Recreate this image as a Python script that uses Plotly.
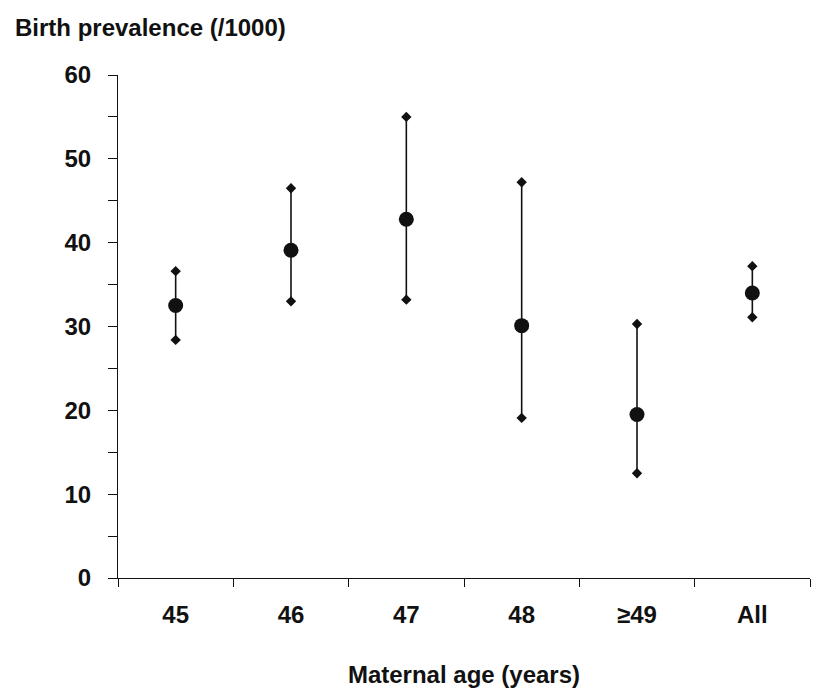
import plotly.graph_objects as go

categories = ["45", "46", "47", "48", "\u226549", "All"]
prevalence = [32.5, 39.1, 42.8, 30.1, 19.5, 34.0]
lower_ci = [28.4, 33.0, 33.2, 19.1, 12.5, 31.1]
upper_ci = [36.6, 46.5, 55.0, 47.2, 30.3, 37.2]

FONT = "Liberation Sans, Arial, sans-serif"
INK = "#111111"

err_plus = [u - p for u, p in zip(upper_ci, prevalence)]
err_minus = [p - l for p, l in zip(prevalence, lower_ci)]

fig = go.Figure()
fig.add_trace(go.Scatter(
    x=categories, y=prevalence, mode="markers",
    marker=dict(symbol="circle", size=15, color=INK),
    error_y=dict(type="data", array=err_plus, arrayminus=err_minus,
                 symmetric=False, width=0, thickness=1.6, color=INK),
    showlegend=False,
))
fig.add_trace(go.Scatter(
    x=categories, y=upper_ci, mode="markers",
    marker=dict(symbol="diamond", size=8, color=INK),
    showlegend=False,
))
fig.add_trace(go.Scatter(
    x=categories, y=lower_ci, mode="markers",
    marker=dict(symbol="diamond", size=8, color=INK),
    showlegend=False,
))

fig.update_layout(
    width=817, height=698,
    margin=dict(l=118, r=7, t=75, b=120),
    paper_bgcolor="white", plot_bgcolor="white",
    font=dict(family=FONT, size=24, color=INK),
    xaxis=dict(
        type="category", range=[-0.5, 5.5],
        showline=True, linecolor=INK, linewidth=1.2,
        ticks="outside", tickson="boundaries", ticklen=8, tickcolor=INK,
        showgrid=False, zeroline=False,
        tickfont=dict(family=FONT, size=24, color=INK, weight="bold"),
        ticklabelstandoff=15,
        title=dict(text="Maternal age (years)", standoff=39,
                   font=dict(family=FONT, size=24, color=INK, weight="bold")),
    ),
    yaxis=dict(
        range=[0, 60], tickvals=[0, 10, 20, 30, 40, 50, 60],
        showline=True, linecolor=INK, linewidth=1.2,
        ticks="outside", ticklen=9, tickcolor=INK,
        minor=dict(dtick=5, ticks="outside", ticklen=9, tickcolor=INK),
        showgrid=False, zeroline=False,
        tickfont=dict(family=FONT, size=24, color=INK, weight="bold"),
        ticklabelstandoff=12,
    ),
    annotations=[dict(
        text="Birth prevalence (/1000)", xref="paper", yref="paper",
        x=-105 / 692, y=1 + 48 / 503, xanchor="left", yanchor="middle",
        showarrow=False,
        font=dict(family=FONT, size=24, color=INK, weight="bold"),
    )],
)

fig.write_html("out.html", config={"displayModeBar": False},
               post_script="document.body.style.margin='0';")
